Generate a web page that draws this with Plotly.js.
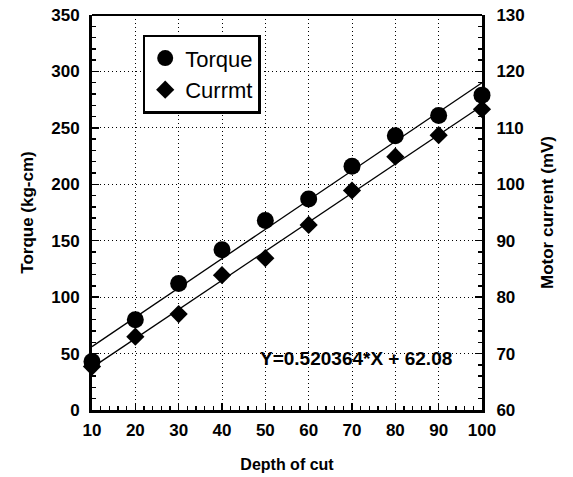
<!DOCTYPE html>
<html><head><meta charset="utf-8">
<script src="https://cdn.plot.ly/plotly-3.0.1.min.js"></script>
<style>html,body{margin:0;padding:0;background:#fff}#c{width:573px;height:477px}</style>
</head><body><div id="c"></div>
<script>
const depth = [10,20,30,40,50,60,70,80,90,100];
const torque = [43,80,112,142,168,187,216,243,261,279];
const current = [67.7,73.0,77.0,83.9,86.9,92.8,98.9,104.9,108.7,113.3];
const xTicks = [10,20,30,40,50,60,70,80,90,100];
const yTicks = [0,50,100,150,200,250,300,350];
const y2Ticks = [60,70,80,90,100,110,120,130];
const eqText = 'Y=0.520364*X + 62.08';

function fit(x, y){
  const n=x.length; const mx=x.reduce((a,b)=>a+b)/n, my=y.reduce((a,b)=>a+b)/n;
  let sxy=0,sxx=0; for(let i=0;i<n;i++){sxy+=(x[i]-mx)*(y[i]-my); sxx+=(x[i]-mx)**2;}
  const b=sxy/sxx, a=my-b*mx; return [a,b];
}
const ft = fit(depth, torque), fc = fit(depth, current);
const lx = [depth[0], depth[depth.length-1]];
const font = 'Liberation Sans, Arial, sans-serif';
const grid = '1px,3px';

const traces = [
  {x: lx, y: lx.map(v=>ft[0]+ft[1]*v), mode:'lines', line:{color:'black', width:1.3}, showlegend:false, hoverinfo:'skip'},
  {x: lx, y: lx.map(v=>fc[0]+fc[1]*v), yaxis:'y2', mode:'lines', line:{color:'black', width:1.3}, showlegend:false, hoverinfo:'skip'},
  {x: depth, y: torque, name:'Torque', mode:'markers', marker:{symbol:'circle', size:17, color:'black'}, cliponaxis:false},
  {x: depth, y: current, name:'Currmt', yaxis:'y2', mode:'markers', marker:{symbol:'diamond', size:14, color:'black'}, cliponaxis:false}
];

const layout = {
  width:573, height:477,
  margin:{l:92, r:91, t:15, b:67},
  paper_bgcolor:'white', plot_bgcolor:'white',
  font:{family:font, color:'black'},
  showlegend:true,
  legend:{x:0.13, y:0.95, xanchor:'left', yanchor:'top', bordercolor:'black', borderwidth:2.5, bgcolor:'white',
          font:{size:22, family:font, color:'black'}, tracegroupgap:0, itemwidth:30},
  xaxis:{range:[10,100], tickvals:xTicks, ticks:'inside', ticklen:7, tickwidth:1.5, tickcolor:'black',
         showline:true, linewidth:3, linecolor:'black', showgrid:true, gridcolor:'black', griddash:grid, gridwidth:1,
         minor:{dtick:2, ticks:'inside', ticklen:4, tickcolor:'black', showgrid:false},
         tickfont:{size:17, family:font, weight:'bold'}, zeroline:false, ticklabelstandoff:3,
         title:{text:'Depth of cut', font:{size:16, family:font, weight:'bold'}, standoff:20}},
  yaxis:{range:[0,350], tickvals:yTicks, ticks:'inside', ticklen:7, tickwidth:1.5, tickcolor:'black',
         showline:true, linewidth:3, linecolor:'black', showgrid:true, gridcolor:'black', griddash:grid, gridwidth:1,
         minor:{dtick:10, ticks:'inside', ticklen:4, tickcolor:'black', showgrid:false},
         tickfont:{size:17, family:font, weight:'bold'}, zeroline:false, ticklabelstandoff:6,
         title:{text:'Torque (kg-cm)', font:{size:17, family:font, weight:'bold'}, standoff:14}},
  yaxis2:{range:[60,130], tickvals:y2Ticks, overlaying:'y', side:'right', ticks:'inside', ticklen:7, tickwidth:1.5, tickcolor:'black',
         showline:true, linewidth:3, linecolor:'black', showgrid:false, zeroline:false,
         minor:{dtick:2, ticks:'inside', ticklen:4, tickcolor:'black', showgrid:false},
         tickfont:{size:17, family:font, weight:'bold'}, ticklabelstandoff:8,
         title:{text:'Motor current (mV)', font:{size:17, family:font, weight:'bold'}, standoff:18}},
  shapes:[{type:'line', xref:'paper', yref:'paper', x0:0, x1:1, y0:1, y1:1, line:{color:'black', width:2}}],
  annotations:[{x:93.5, y:46, xref:'x', yref:'y', xanchor:'right', yanchor:'middle', text:eqText, showarrow:false,
                font:{size:19, family:font, color:'black', weight:'bold'}, bgcolor:'rgba(0,0,0,0)'}]
};
Plotly.newPlot('c', traces, layout, {displayModeBar:false, staticPlot:true});
</script></body></html>
